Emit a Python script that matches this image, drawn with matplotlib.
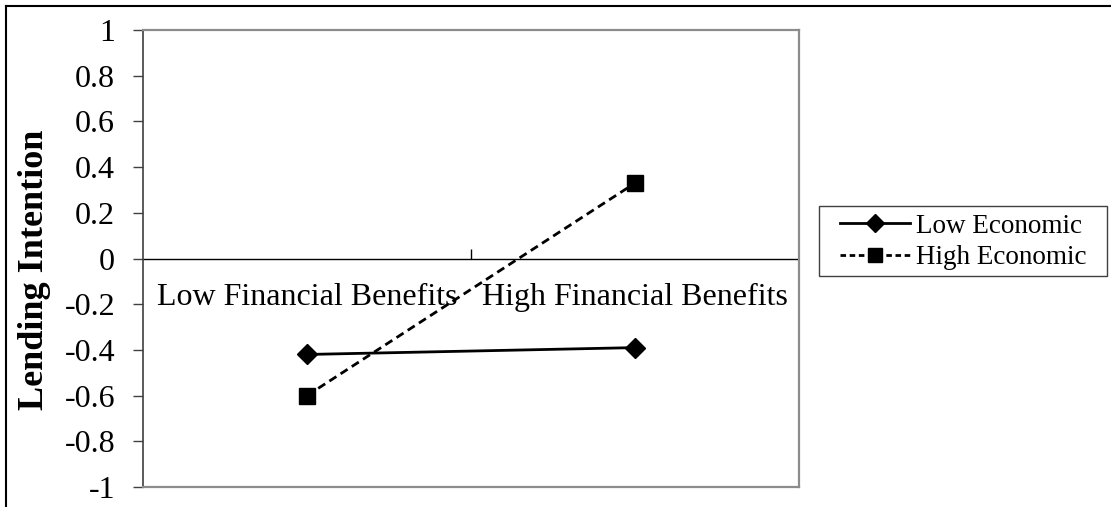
import matplotlib.pyplot as plt
from matplotlib.lines import Line2D
from matplotlib.patches import Rectangle

# interaction means: lending intention by financial benefit level
categories = ["Low Financial Benefits", "High Financial Benefits"]
low_economic = [-0.42, -0.39]
high_economic = [-0.60, 0.33]
y_ticks = [-1, -0.8, -0.6, -0.4, -0.2, 0, 0.2, 0.4, 0.6, 0.8, 1]
y_ticklabels = ["-1", "-0.8", "-0.6", "-0.4", "-0.2", "0", "0.2", "0.4", "0.6", "0.8", "1"]

plt.rcParams["font.family"] = ["Liberation Serif", "DejaVu Serif"]

W, H = 1111, 507
fig = plt.figure(figsize=(W / 100, H / 100), dpi=100)
ax = fig.add_axes([143 / W, (H - 487) / H, (799 - 143) / W, (487 - 30) / H])

x = list(range(len(categories)))
ax.plot(x, low_economic, color="black", lw=2, ls="-", marker="D", ms=10,
        label="Low Economic", zorder=3)
ax.plot(x, high_economic, color="black", lw=2, ls=(0, (3, 1.8)), marker="s", ms=11,
        label="High Economic", zorder=3)

ax.set_xlim(-0.5, len(categories) - 0.5)
ax.set_ylim(-1, 1)
ax.set_yticks(y_ticks)
ax.set_yticklabels(y_ticklabels, fontsize=23)
ax.tick_params(axis="y", direction="out", length=7, width=1, color="#404040", pad=13)
ax.set_xticks([])

for side in ["top", "right", "bottom"]:
    ax.spines[side].set_color("#8c8c8c")
    ax.spines[side].set_linewidth(1.6)
ax.spines["left"].set_color("#404040")
ax.spines["left"].set_linewidth(1.2)

# horizontal category axis sits at zero
ax.axhline(0, color="black", lw=1, zorder=2)
ax.vlines([0.5], 0, 0.04, color="black", lw=1)
for i, cat in enumerate(categories):
    ax.text(i, -0.17, cat, ha="center", va="center", fontsize=23)

fig.text(35 / W, 1 - 270 / H, "Lending Intention", rotation=90, ha="center",
         va="center", fontsize=26, fontweight="bold")

handles = [
    Line2D([], [], color="black", lw=2, marker="D", ms=9),
    Line2D([], [], color="black", lw=2, ls=(0, (2, 1.3)), marker="s", ms=10),
]
fig.legend(handles, ["Low Economic", "High Economic"], loc="center left",
           bbox_to_anchor=(840 / W, 1 - 242 / H), fontsize=19.5, frameon=False,
           handlelength=2.6, handletextpad=0.2, borderpad=0, labelspacing=0.25,
           borderaxespad=0)
# legend box drawn separately so its padding can be set per side
fig.add_artist(Rectangle((819 / W, 1 - 276 / H), (1107 - 819) / W, 70 / H,
                         transform=fig.transFigure, fill=False, edgecolor="#404040",
                         lw=1))

# outer frame lines
fig.add_artist(Line2D([6 / W, 1], [1 - 6 / H, 1 - 6 / H], color="black", lw=1.5,
                      transform=fig.transFigure))
fig.add_artist(Line2D([6 / W, 6 / W], [0, 1 - 6 / H], color="black", lw=1.5,
                      transform=fig.transFigure))

fig.savefig("out.png", dpi=100)
